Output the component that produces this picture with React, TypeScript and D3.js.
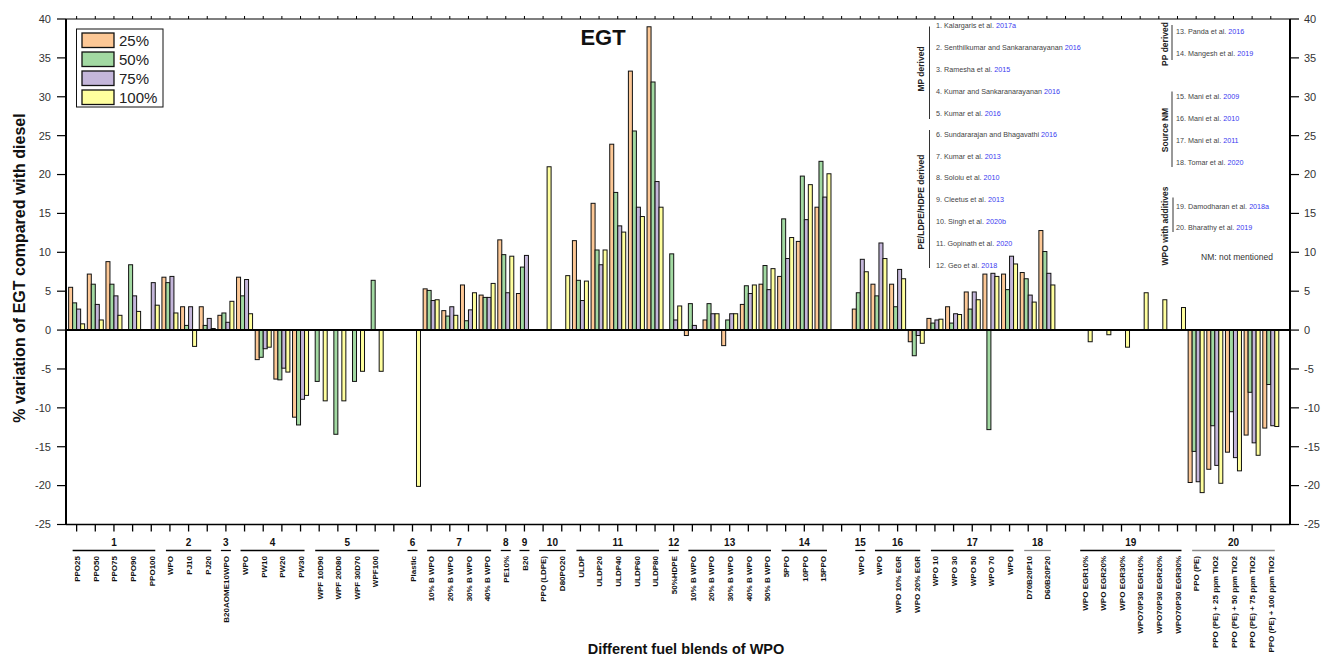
import React from 'react';
import * as d3 from 'd3';

const categories: string[] = [
  'PPO25', 'PPO50', 'PPO75', 'PPO90', 'PPO100',
  'WPO', 'PJ10', 'PJ20',
  'B20AOME10WPO',
  'WPO', 'PW10', 'PW20', 'PW30',
  'WPF 10D90', 'WPF 20D80', 'WPF 30D70', 'WPF100',
  '',
  'Plastic',
  '10% B WPO', '20% B WPO', '30% B WPO', '40% B WPO',
  'PE10%',
  'B20',
  'PPO (LDPE)', 'D80PO20',
  'ULDP', 'ULDP20', 'ULDP40', 'ULDP60', 'ULDP80',
  '50%HDPE',
  '10% B WPO', '20% B WPO', '30% B WPO', '40% B WPO', '50% B WPO',
  '5PPO', '10PPO', '15PPO',
  '',
  'WPO',
  'WPO', 'WPO 10% EGR', 'WPO 20% EGR',
  'WPO 10', 'WPO 30', 'WPO 50', 'WPO 70', 'WPO',
  'D70B20P10', 'D60B20P20',
  '',
  'WPO EGR10%', 'WPO EGR20%', 'WPO EGR30%', 'WPO70P30 EGR10%', 'WPO70P30 EGR20%', 'WPO70P30 EGR30%',
  'PPO (PE)', 'PPO (PE) + 25 ppm TiO2', 'PPO (PE) + 50 ppm TiO2', 'PPO (PE) + 75 ppm TiO2', 'PPO (PE) + 100 ppm TiO2',
];

const N = null;
const s25: (number | null)[] = [
  5.5, 7.2, 8.8, N, N,
  6.8, 3.0, 3.0,
  1.9,
  6.8, -3.8, -6.3, -11.2,
  N, N, N, N,
  N,
  N,
  5.3, 2.5, 5.8, 4.5,
  11.6,
  4.7,
  N, N,
  11.5, 16.3, 23.9, 33.3, 39.0,
  N,
  -0.7, 1.3, -2.0, 3.3, 5.9,
  6.9, 11.4, 15.8,
  N,
  2.7,
  5.9, 5.9, -1.5,
  1.5, 3.0, 4.9, 7.2, 7.2,
  7.4, 12.8,
  N,
  N, N, N, N, N, N,
  -19.6, -17.9, -15.7, -13.5, -12.6,
];
const s50: (number | null)[] = [
  3.5, 5.9, 5.9, 8.4, N,
  6.1, 0.6, 0.6,
  2.2,
  4.4, -3.5, -6.4, -12.2,
  -6.6, -13.4, -6.6, 6.4,
  N,
  N,
  5.1, 1.8, 1.2, 4.2,
  9.7,
  8.1,
  N, N,
  6.4, 10.3, 17.7, 25.6, 31.9,
  9.8,
  3.4, 3.4, 1.3, 5.7, 8.3,
  14.3, 19.8, 21.7,
  N,
  4.8,
  4.4, 3.0, -3.3,
  0.9, 0.9, 2.7, -12.8, 5.2,
  6.6, 10.1,
  N,
  N, N, N, N, N, N,
  -15.6, -12.3, -10.5, -8.0, -7.0,
];
const s75: (number | null)[] = [
  2.7, 3.3, 4.4, 4.4, 6.1,
  6.9, 3.0, 1.5,
  1.0,
  6.5, -2.4, -4.9, -8.9,
  N, N, N, N,
  N,
  N,
  3.8, 3.0, 2.6, 4.2,
  4.8,
  9.6,
  N, N,
  3.8, 8.4, 13.4, 15.8, 19.1,
  1.3,
  0.6, 2.1, 2.1, 4.7, 5.2,
  9.2, 14.2, 17.1,
  N,
  9.1,
  11.2, 7.8, -0.7,
  1.3, 2.1, 4.9, 7.3, 9.5,
  4.5, 7.3,
  N,
  N, N, N, N, N, N,
  -19.5, -17.4, -16.4, -14.5, -12.3,
];
const s100: (number | null)[] = [
  0.8, 1.3, 1.9, 2.4, 3.2,
  2.2, -2.1, 0.2,
  3.7,
  2.1, -2.2, -5.4, -8.4,
  -9.1, -9.1, -5.3, -5.3,
  N,
  -20.1,
  3.9, 1.9, 4.8, 6.0,
  9.5,
  N,
  21.0, 7.0,
  6.3, 10.3, 12.6, 14.6, 15.8,
  3.1,
  N, 2.1, 2.1, 5.8, 7.9,
  11.9, 18.7, 20.1,
  N,
  7.5,
  9.2, 6.6, -1.7,
  1.4, 2.0, 3.9, 6.9, 8.5,
  3.6, 5.8,
  N,
  -1.5, -0.6, -2.2, 4.8, 3.9, 2.9,
  -20.9, -19.7, -18.1, -16.1, -12.4,
];

const seriesNames = ['25%', '50%', '75%', '100%'];
const seriesColors = ['#FDC896', '#A2D9A2', '#C4B6DA', '#FFFF9E'];
const seriesData = [s25, s50, s75, s100];

// groups: label, first category index, last category index
const groupLabels = ['1', '2', '3', '4', '5', '6', '7', '8', '9', '10', '11', '12', '13', '14', '15', '16', '17', '18', '19', '20'];
const groupStarts = [0, 5, 8, 9, 13, 18, 19, 23, 24, 25, 27, 32, 33, 38, 42, 43, 46, 51, 54, 60];
const groupEnds = [4, 7, 8, 12, 16, 18, 22, 23, 24, 26, 31, 32, 37, 40, 42, 45, 50, 52, 59, 64];
const grayGroups = ['18', '20'];

const yTicks = [-25, -20, -15, -10, -5, 0, 5, 10, 15, 20, 25, 30, 35, 40];

// reference annotations
const refNames = [
  'Kalargaris et al.', 'Senthilkumar and Sankaranarayanan', 'Ramesha et al.', 'Kumar and Sankaranarayanan', 'Kumar et al.',
  'Sundararajan and Bhagavathi', 'Kumar et al.', 'Soloiu et al.', 'Cleetus et al.', 'Singh et al.', 'Gopinath et al.', 'Geo et al.',
  'Panda et al.', 'Mangesh et al.',
  'Mani et al.', 'Mani et al.', 'Mani et al.', 'Tomar et al.',
  'Damodharan et al.', 'Bharathy et al.',
];
const refYears = [
  '2017a', '2016', '2015', '2016', '2016',
  '2016', '2013', '2010', '2013', '2020b', '2020', '2018',
  '2016', '2019',
  '2009', '2010', '2011', '2020',
  '2018a', '2019',
];
const blockLabels = ['MP derived', 'PE/LDPE/HDPE derived', 'PP derived', 'Source NM', 'WPO with additives'];
const blockFirst = [0, 5, 12, 14, 18];
const blockLast = [4, 11, 13, 17, 19];

const FONT = 'Liberation Sans, Arial, Helvetica, sans-serif';

export default function App() {
  const left = 66, right = 1290, top = 19, bottom = 524.5;
  const x = d3.scaleLinear().domain([-0.57, 65.03]).range([left, right]);
  const y = d3.scaleLinear().domain([-25, 40]).range([bottom, top]);
  const sub = d3.scaleBand<string>().domain(seriesNames).range([-8, 8]);
  const bw = sub.bandwidth();

  const bars: React.ReactNode[] = [];
  categories.forEach((_, i) => {
    seriesData.forEach((arr, si) => {
      const v = arr[i];
      if (v === null || v === undefined) return;
      const y0 = y(0), y1 = y(v);
      bars.push(
        <rect key={`b${i}-${si}`} x={x(i) + (sub(seriesNames[si]) as number)} y={Math.min(y0, y1)}
          width={bw} height={Math.abs(y1 - y0)} fill={seriesColors[si]} stroke="#111" strokeWidth={1} />
      );
    });
  });

  // annotation layout
  const blockGeom = [
    { lx: 921.5, ly: 69, line: 929.5, tx: 936, y0: 25.7, dy: 22, l0: 26.5, l1: 119 },
    { lx: 921.5, ly: 202, line: 929.5, tx: 936, y0: 134.3, dy: 21.8, l0: 130, l1: 268 },
    { lx: 1165, ly: 44, line: 1172, tx: 1176, y0: 31, dy: 22.3, l0: 25, l1: 60 },
    { lx: 1165, ly: 130, line: 1172, tx: 1176, y0: 96, dy: 22.1, l0: 91.5, l1: 167 },
    { lx: 1165, ly: 226, line: 1173, tx: 1176, y0: 206.7, dy: 20.6, l0: 197.5, l1: 232 },
  ];

  return (
    <svg width={1323} height={658} style={{ display: 'block', position: 'absolute', left: 0, top: 0, background: '#fff' }}
      fontFamily={FONT}>
      <rect x={0} y={0} width={1323} height={658} fill="#fff" />
      {/* bars */}
      {bars}
      {/* zero line */}
      <line x1={left} x2={right} y1={y(0)} y2={y(0)} stroke="#000" strokeWidth={2} />
      {/* frame */}
      <line x1={left} x2={right} y1={top} y2={top} stroke="#000" strokeWidth={1.2} />
      <line x1={left} x2={right} y1={bottom} y2={bottom} stroke="#000" strokeWidth={1.5} />
      <line x1={left} x2={left} y1={top} y2={bottom} stroke="#000" strokeWidth={2} />
      <line x1={right} x2={right} y1={top} y2={bottom} stroke="#000" strokeWidth={2} />
      {/* y ticks */}
      {yTicks.map(t => (
        <g key={`yt${t}`}>
          <line x1={left - 9} x2={left} y1={y(t)} y2={y(t)} stroke="#000" strokeWidth={1.2} />
          <text x={left - 15} y={y(t)} dy="0.35em" textAnchor="end" fontSize={11} fill="#333">{t}</text>
          <line x1={right} x2={right + 9} y1={y(t)} y2={y(t)} stroke="#000" strokeWidth={1.2} />
          <text x={right + 14} y={y(t)} dy="0.35em" textAnchor="start" fontSize={11} fill="#333">{t}</text>
        </g>
      ))}
      {/* x ticks */}
      {categories.map((_, i) => (
        <g key={`xt${i}`}>
          <line x1={x(i)} x2={x(i)} y1={bottom} y2={bottom + 7} stroke="#000" strokeWidth={1.3} />
          <line x1={x(i)} x2={x(i)} y1={top} y2={top - 3} stroke="#000" strokeWidth={1} />
        </g>
      ))}
      {/* category labels */}
      {categories.map((c, i) => c ? (
        <text key={`cl${i}`} transform={`translate(${x(i) + 0.5},556) rotate(-90)`} textAnchor="end" dy="0.35em"
          fontSize={8} fontWeight="bold" fill="#111">{c}</text>
      ) : null)}
      {/* group labels */}
      {groupLabels.map((g, gi) => {
        const a = x(groupStarts[gi]), b = x(groupEnds[gi]);
        const single = groupStarts[gi] === groupEnds[gi];
        const x1 = single ? a - 5 : a - 4, x2 = single ? a + 5 : b + 4;
        const col = grayGroups.includes(g) ? '#888' : '#000';
        return (
          <g key={`g${g}`}>
            <text x={(a + b) / 2} y={546} textAnchor="middle" fontSize={10} fontWeight="bold" fill="#111">{g}</text>
            <line x1={x1} x2={x2} y1={550.5} y2={550.5} stroke={col} strokeWidth={1.3} />
          </g>
        );
      })}
      {/* axis titles */}
      <text transform="translate(19,268) rotate(-90)" textAnchor="middle" dy="0.35em" fontSize={16} fontWeight="bold" fill="#111">
        % variation of EGT compared with diesel
      </text>
      <text x={686} y={654} textAnchor="middle" fontSize={14.5} fontWeight="bold" fill="#111">Different fuel blends of WPO</text>
      {/* chart title */}
      <text x={603} y={45} textAnchor="middle" fontSize={22} fontWeight="bold" fill="#111">EGT</text>
      {/* legend */}
      <g>
        <rect x={76.5} y={29} width={86.5} height={78} fill="#fff" stroke="#111" strokeWidth={1} />
        {seriesNames.map((s, si) => (
          <g key={`lg${s}`}>
            <rect x={82} y={33 + si * 19} width={32} height={14.5} fill={seriesColors[si]} stroke="#111" strokeWidth={1.3} />
            <text x={119} y={40.5 + si * 19} dy="0.35em" fontSize={15} fill="#222">{s}</text>
          </g>
        ))}
      </g>
      {/* annotations */}
      {blockLabels.map((bl, bi) => {
        const g = blockGeom[bi];
        const items: React.ReactNode[] = [];
        for (let k = blockFirst[bi]; k <= blockLast[bi]; k++) {
          const yy = g.y0 + (k - blockFirst[bi]) * g.dy;
          items.push(
            <text key={`r${k}`} x={g.tx} y={yy} dy="0.35em" fontSize={7.2} fill="#444">
              {`${k + 1}. ${refNames[k]} `}<tspan fill="#3a3af0">{refYears[k]}</tspan>
            </text>
          );
        }
        return (
          <g key={`blk${bi}`}>
            <text transform={`translate(${g.lx},${g.ly}) rotate(-90)`} textAnchor="middle" dy="0.35em" fontSize={8.5}
              fontWeight="bold" fill="#222">{bl}</text>
            <line x1={g.line} x2={g.line} y1={g.l0} y2={g.l1} stroke="#333" strokeWidth={1} />
            {items}
          </g>
        );
      })}
      <text x={1237} y={257} dy="0.35em" textAnchor="middle" fontSize={8.5} fill="#333">NM: not mentioned</text>
    </svg>
  );
}
